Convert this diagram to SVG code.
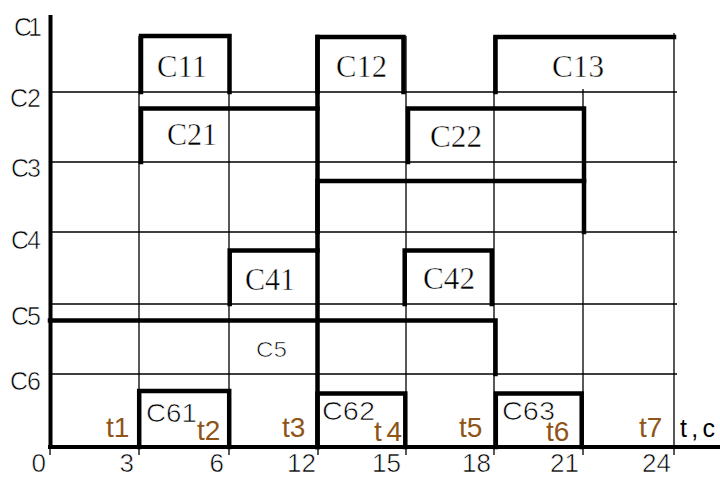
<svg xmlns="http://www.w3.org/2000/svg" width="720" height="477" viewBox="0 0 720 477">
<style>
.thin{stroke:#000;stroke-width:1.3;fill:none}
.thick{stroke:#000;stroke-width:4.5;fill:none;stroke-linecap:square}
.axis{stroke:#000;stroke-width:4;fill:none}
.lbl{font-family:"Liberation Sans",Arial,sans-serif;font-size:25px;fill:#000;stroke:#fff;stroke-width:0.6}
.ser{font-family:"Liberation Serif","Times New Roman",serif;font-size:31px;fill:#000;stroke:#fff;stroke-width:0.45}
.san{font-family:"Liberation Sans",Arial,sans-serif;font-size:26px;fill:#000;stroke:#fff;stroke-width:0.7}
.num{font-family:"Liberation Sans",Arial,sans-serif;font-size:26px;fill:#000;text-anchor:end;stroke:#fff;stroke-width:0.6}
.t{font-family:"Liberation Sans",Arial,sans-serif;font-size:28px;fill:#8f5418}
</style>
<rect width="720" height="477" fill="#fff"/>
<g id="grid" class="thin">
<path d="M50,92H677M50,162H677M50,232H677M50,304H677M50,374H677"/>
<path d="M50,447V455M139,36V455M229,36V455M318,36V455M406,36V455M494,36V455M583,89V455M674,33V455"/>
</g>
<g id="axes" class="axis">
<path d="M50.5,15V447"/>
<path d="M48,447H720"/>
</g>
<g id="bars" class="thick">
<path id="c11" d="M141,92V36H229.5V92"/>
<path id="c12" d="M317.5,92V37H403.5V92"/>
<path id="c13" d="M495.5,92V37H674"/>
<path id="c21" d="M141,162V108.5H317.5"/>
<path id="c22" d="M408,162V108.5H584V232"/>
<path id="c3" d="M317.5,232V181H584"/>
<path id="c41" d="M229.7,304V250.5H317.5"/>
<path id="c42" d="M404.7,304V250.5H491.8V304"/>
<path id="c5" d="M50,320.5H495.5V374"/>
<path id="c61" d="M139.2,447V391H229.2V447"/>
<path id="c62" d="M317.5,447V393.5H405.3V447"/>
<path id="c63" d="M495.8,447V393.5H581.7V447"/>
<path id="split" d="M317.5,37V447"/>
</g>
<g id="rowlabels" class="lbl">
<text x="14" y="36" textLength="28">C1</text>
<text x="10" y="107" textLength="31">C2</text>
<text x="11" y="177" textLength="30">C3</text>
<text x="11" y="249" textLength="30">C4</text>
<text x="11" y="325" textLength="30">C5</text>
<text x="10" y="390" textLength="31">C6</text>
</g>
<g id="barlabels" class="ser">
<text x="157" y="77" textLength="50" lengthAdjust="spacingAndGlyphs">C11</text>
<text x="336" y="77" textLength="51" lengthAdjust="spacingAndGlyphs">C12</text>
<text x="552" y="77" textLength="52" lengthAdjust="spacingAndGlyphs">C13</text>
<text x="167" y="145" textLength="50" lengthAdjust="spacingAndGlyphs">C21</text>
<text x="430" y="147" textLength="52" lengthAdjust="spacingAndGlyphs">C22</text>
<text x="245" y="290" textLength="50" lengthAdjust="spacingAndGlyphs">C41</text>
<text x="423" y="289" textLength="52" lengthAdjust="spacingAndGlyphs">C42</text>
</g>
<g id="sanlabels" class="san">
<text x="256" y="357" style="font-size:22px" textLength="31" lengthAdjust="spacingAndGlyphs">C5</text>
<text x="146" y="422" textLength="51" lengthAdjust="spacingAndGlyphs">C61</text>
<text x="322" y="420" textLength="53" lengthAdjust="spacingAndGlyphs">C62</text>
<text x="502" y="420" textLength="53" lengthAdjust="spacingAndGlyphs">C63</text>
</g>
<g id="numbers" class="num">
<text x="46" y="472">0</text>
<text x="134" y="472">3</text>
<text x="224" y="472">6</text>
<text x="316" y="472">12</text>
<text x="401" y="472">15</text>
<text x="491" y="472">18</text>
<text x="579" y="472">21</text>
<text x="671" y="472">24</text>
</g>
<g id="tlabels" class="t">
<text x="106" y="437">t1</text>
<text x="197" y="440">t2</text>
<text x="282" y="437">t3</text>
<text x="374" y="441" textLength="28">t4</text>
<text x="459" y="437">t5</text>
<text x="546" y="441">t6</text>
<text x="639" y="437">t7</text>
<text x="680" y="437" style="fill:#000;font-size:25px" textLength="35">t,c</text>
</g>
</svg>
